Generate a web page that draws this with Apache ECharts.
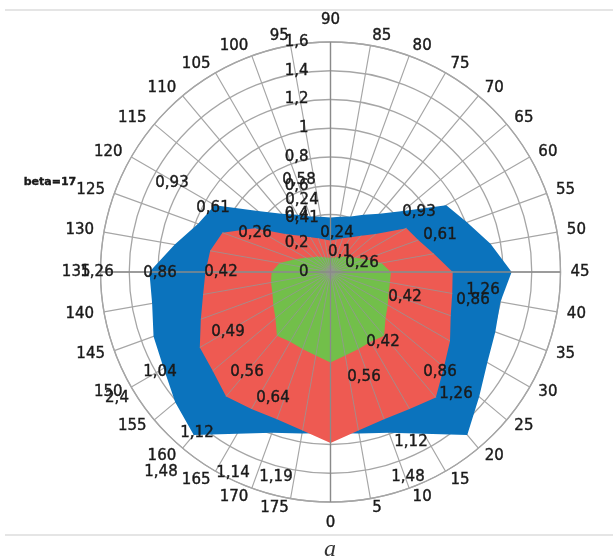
<!DOCTYPE html>
<html><head><meta charset="utf-8">
<script src="https://cdn.jsdelivr.net/npm/echarts@6/dist/echarts.min.js"></script>
<style>html,body{margin:0;padding:0;background:#fff}#c{width:613px;height:560px}</style>
</head><body><div id="c"></div>
<script>
// ---- data ----
const angles = [0,5,10,15,20,25,30,35,40,45,50,55,60,65,70,75,80,85,
  90,95,100,105,110,115,120,125,130,135,140,145,150,155,160,165,170,175];
const angleFullTurn = 180; // angle value that coincides with 0 (one full revolution)
const radiusTicks = [0, 0.2, 0.4, 0.6, 0.8, 1, 1.2, 1.4, 1.6];
const blueValues = [1.12,1.14,1.19,1.30,1.48,1.35,1.26,1.22,1.20,1.26,1.13,1.01,0.93,0.66,0.53,0.46,0.41,0.39,
  0.38,0.39,0.41,0.46,0.53,0.66,0.93,0.98,1.10,1.26,1.26,1.31,1.34,1.41,1.48,1.30,1.19,1.14];
const redValues = [1.19,1.12,1.09,1.10,1.14,1.03,0.96,0.89,0.86,0.85,0.73,0.65,0.61,0.41,0.33,0.28,0.25,0.23,
  0.22,0.23,0.25,0.28,0.33,0.41,0.61,0.80,0.85,0.87,0.90,0.96,1.05,1.07,1.13,1.10,1.09,1.12];
const greenValues = [0.63,0.59,0.57,0.56,0.58,0.50,0.46,0.43,0.42,0.42,0.36,0.26,0.20,0.16,0.14,0.12,0.11,0.10,
  0.10,0.10,0.11,0.12,0.14,0.16,0.20,0.26,0.36,0.41,0.42,0.43,0.46,0.50,0.58,0.56,0.57,0.59];
const noteTexts = ['beta=17','0,93','0,61','0,26','0,58','0,24','0,41','0,24','0,1','0,26','0,93','0,61',
  '0,42','1,26','0,86','1,26','0,86','0,42','0,49','1,04','0,56','0,64','2,4','1,12','1,48','1,14','1,19',
  '0,42','0,56','0,86','1,26','1,12','1,48'];
const captionText = 'a';

// ---- layout (pixel positions of free-floating annotation texts) ----
const notePos = [[50,182],[172,183],[213,208],[255,233],[299,180],[302,200],[302,218],[337,233],[340,252],
  [362,263],[419,212],[440,235],[405,297],[483,290],[473,300],[97,272],[160,273],[221,272],[228,332],
  [160,372],[247,372],[273,398],[117,398],[197,433],[161,472],[233,473],[276,477],[383,342],[364,377],
  [440,372],[456,394],[411,442],[408,477]];

const CENTER = [330.5, 272], RADIUS = 230, LABEL_GAP_PX = 10, LABEL_GAP_VERTICAL_PX = 14;
const FONT = 'DejaVu Sans';
const GRID = '#a6a6a6';
const TXT = '#1a1a1a';
const COLORS = {blue:'#0b73bd', red:'#ee5a52', green:'#72bf4a'};
const rMax = radiusTicks[radiusTicks.length-1];

function poly(vals){ const d = vals.map((r,i)=>[r, angles[i]]); d.push([vals[0], angleFullTurn]); return d; }
function area(name, vals, color, z){
  return {name, type:'line', coordinateSystem:'polar', polarIndex:0, data: poly(vals), symbol:'none', clip:false,
    smooth:false, silent:true, z, lineStyle:{width:0, color}, areaStyle:{color, opacity:1}, animation:false};
}
const series = [area('b', blueValues, COLORS.blue, 2), area('r', redValues, COLORS.red, 3), area('g', greenValues, COLORS.green, 4)];
// spokes visible over red/green region
redValues.forEach((r,i)=>{
  series.push({type:'line', coordinateSystem:'polar', polarIndex:0, data:[[0, angles[i]],[r, angles[i]]], clip:false,
    symbol:'none', silent:true, z:5, lineStyle:{color:'rgba(150,150,150,0.8)', width:1}, animation:false});
});
// main axes on top
[[0,90],[45,135]].forEach(p=>{
  series.push({type:'line', coordinateSystem:'polar', polarIndex:0, data:[[rMax, p[0]],[rMax, p[1]]], clip:false,
    symbol:'none', silent:true, z:6, lineStyle:{color:'#8a8a8a', width:1.3}, animation:false});
});
// category (angle) labels placed just outside the outer ring
series.push({type:'scatter', coordinateSystem:'polar', polarIndex:0, clip:false, silent:true, z:10,
  symbol:'circle', symbolSize:1, itemStyle:{color:'rgba(0,0,0,0)'}, animation:false,
  data: angles.map(a=>{
    const th = (270 + a*2) * Math.PI/180; const c = Math.cos(th), s = Math.sin(th);
    const vertical = Math.abs(c) < 0.02;
    const gap = vertical ? LABEL_GAP_VERTICAL_PX : LABEL_GAP_PX;
    return {value:[rMax * (RADIUS + gap) / RADIUS, a], label:{
      align: vertical ? 'center' : (c > 0 ? 'left' : 'right'),
      verticalAlign: vertical ? (s > 0 ? 'bottom' : 'top') : 'middle'}};
  }),
  label:{show:true, position:[0.5, 0.5], formatter:p=>String(p.value[1]), fontSize:15, fontFamily:FONT, color:TXT,
    opacity:1, textBorderColor:TXT, textBorderWidth:0.4}
});

const graphic = [
  {type:'line', shape:{x1:5,y1:10,x2:613,y2:10}, style:{stroke:'#dcdcdc', lineWidth:1.5}, silent:true},
  {type:'line', shape:{x1:5,y1:535,x2:613,y2:535}, style:{stroke:'#dcdcdc', lineWidth:1.5}, silent:true},
  {type:'text', x:330, y:550, style:{text:captionText, font:'italic 24px "Liberation Serif"', fill:'#333',
    textAlign:'center', textVerticalAlign:'middle'}, silent:true}
];
noteTexts.forEach((t,i)=>{
  const isBeta = i===0;
  graphic.push({type:'text', x:notePos[i][0], y:notePos[i][1], z:100,
    style:{text:t, font:(isBeta?'bold 11px ':'15px ')+'"'+FONT+'"', fill:TXT, stroke:TXT, lineWidth:0.4,
      textAlign:'center', textVerticalAlign:'middle'}, silent:true});
});

const chart = echarts.init(document.getElementById('c'), null, {renderer:'canvas'});
chart.setOption({
  animation:false,
  backgroundColor:'#ffffff',
  polar:[{center:CENTER, radius:RADIUS}, {center:CENTER, radius:RADIUS}],
  angleAxis:[
    {polarIndex:0, type:'value', min:angles[0], max:angleFullTurn, interval:5, startAngle:270, clockwise:false,
      axisLine:{show:true, lineStyle:{color:GRID, width:1.3}}, axisTick:{show:false},
      axisLabel:{show:false},
      splitLine:{show:true, lineStyle:{color:GRID, width:1.2}}},
    {polarIndex:1, type:'value', min:0, max:360, startAngle:90, show:false,
      axisLine:{show:false}, axisLabel:{show:false}, splitLine:{show:false}, axisTick:{show:false}}
  ],
  radiusAxis:[
    {polarIndex:0, min:radiusTicks[0], max:rMax, interval:0.2,
      axisLine:{show:false}, axisTick:{show:false}, axisLabel:{show:false},
      splitLine:{show:true, lineStyle:{color:GRID, width:1.3}}},
    {polarIndex:1, min:radiusTicks[0], max:rMax, interval:0.2, z:20,
      axisLine:{show:false}, axisTick:{show:false}, splitLine:{show:false},
      axisLabel:{show:true, margin:22, fontSize:15, fontFamily:FONT, color:TXT, textBorderColor:TXT, textBorderWidth:0.4,
        formatter:v=>String(+(+v).toFixed(1)).replace('.',',')}}
  ],
  series,
  graphic
});
</script></body></html>
